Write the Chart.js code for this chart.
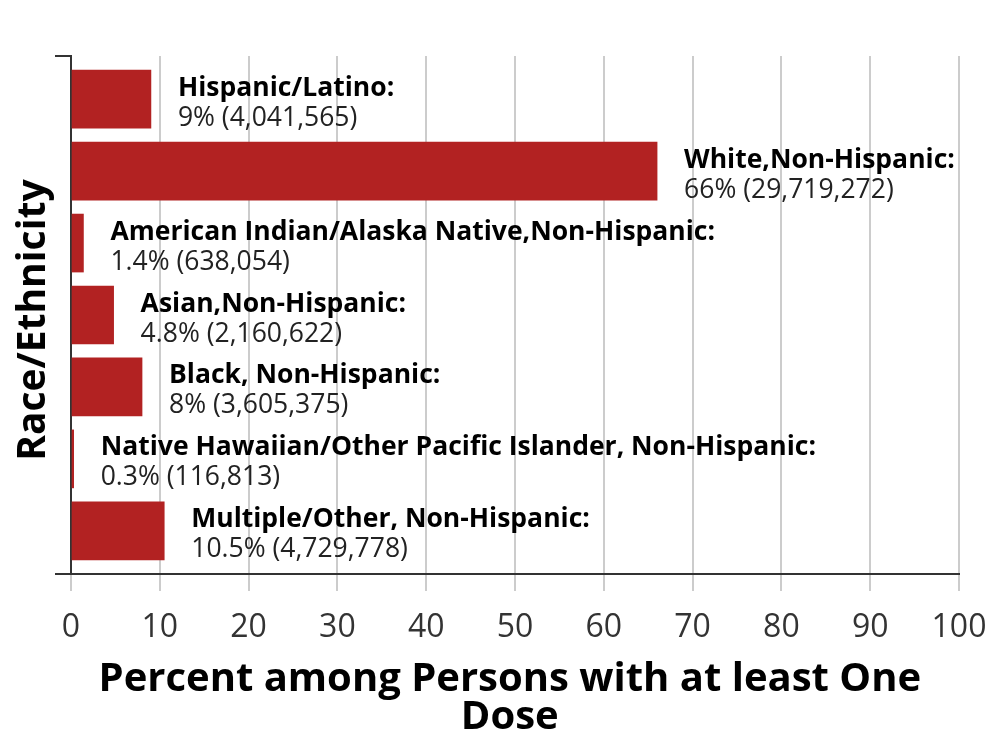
<!DOCTYPE html>
<html>
<head>
<meta charset="utf-8">
<script src="https://cdn.jsdelivr.net/npm/chart.js@4.4.1/dist/chart.umd.min.js"></script>
<style>
  html, body { margin: 0; padding: 0; background: #fff; }
  #wrap { width: 987px; height: 744px; }
</style>
</head>
<body>
<div id="wrap"><canvas id="doseChart" width="987" height="744"></canvas></div>
<script>
const categories = [
    'Hispanic/Latino',
    'White,Non-Hispanic',
    'American Indian/Alaska Native,Non-Hispanic',
    'Asian,Non-Hispanic',
    'Black, Non-Hispanic',
    'Native Hawaiian/Other Pacific Islander, Non-Hispanic',
    'Multiple/Other, Non-Hispanic'
];
const percents = [9, 66, 1.4, 4.8, 8, 0.3, 10.5];
const counts = [4041565, 29719272, 638054, 2160622, 3605375, 116813, 4729778];
const xTicks = [0, 10, 20, 30, 40, 50, 60, 70, 80, 90, 100];

const FONT = "'Open Sans', 'Noto Sans', sans-serif";
const BAR_RED = '#b22222';

// name + value text next to each bar
const barLabels = {
    id: 'barLabels',
    afterDatasetsDraw(chart) {
        const ctx = chart.ctx;
        const meta = chart.getDatasetMeta(0);
        ctx.save();
        ctx.textAlign = 'left';
        ctx.textBaseline = 'middle';
        meta.data.forEach((bar, i) => {
            const x = bar.x + 27;
            ctx.fillStyle = '#000';
            ctx.font = 'bold 26.5px ' + FONT;
            ctx.fillText(categories[i] + ':', x, bar.y - 11);
            ctx.fillStyle = '#222';
            ctx.font = '26.5px ' + FONT;
            ctx.fillText(percents[i] + '% (' + counts[i].toLocaleString('en-US') + ')', x, bar.y + 19);
        });
        ctx.restore();
    }
};

// short ticks that stick out left of the y axis at top and bottom
const axisCaps = {
    id: 'axisCaps',
    afterDraw(chart) {
        const {ctx, chartArea} = chart;
        ctx.save();
        ctx.strokeStyle = '#333';
        ctx.lineWidth = 2;
        ctx.beginPath();
        ctx.moveTo(chartArea.left - 16, chartArea.top);
        ctx.lineTo(chartArea.left, chartArea.top);
        ctx.moveTo(chartArea.left - 16, chartArea.bottom);
        ctx.lineTo(chartArea.left, chartArea.bottom);
        ctx.stroke();
        ctx.restore();
    }
};

new Chart(document.getElementById('doseChart').getContext('2d'), {
    type: 'bar',
    data: {
        datasets: [{
            data: percents.map((v, i) => ({ x: v, y: i })),
            backgroundColor: BAR_RED,
            borderWidth: 0,
            barThickness: 58
        }]
    },
    options: {
        indexAxis: 'y',
        responsive: false,
        animation: false,
        layout: { padding: { top: 56, right: 28, left: 0, bottom: 0 } },
        plugins: {
            legend: { display: false },
            tooltip: { enabled: false }
        },
        scales: {
            x: {
                type: 'linear',
                min: 0,
                max: 100,
                afterBuildTicks: (scale) => { scale.ticks = xTicks.map(v => ({ value: v })); },
                afterFit: (scale) => {
                    scale.height = 170;
                    scale.paddingLeft = 0;
                    scale.paddingRight = 0;
                },
                grid: { color: '#cccccc', lineWidth: 2, tickLength: 17, tickColor: '#cccccc' },
                border: { display: true, color: '#333', width: 2 },
                ticks: { font: { family: FONT, size: 32 }, color: '#333', padding: 18, maxRotation: 0 },
                title: {
                    display: true,
                    // trailing space nudges the centred text a little to the left, as in the original
                    text: ['Percent among Persons with at least One ', 'Dose '],
                    font: { family: FONT, size: 40, weight: 'bold', lineHeight: 0.95 },
                    color: '#000',
                    padding: { top: 0, bottom: 7 }
                }
            },
            y: {
                type: 'linear',
                min: -0.6,
                max: 6.6,
                reverse: true,
                offset: false,
                afterFit: (scale) => { scale.width = 71; },
                grid: { display: false },
                border: { display: true, color: '#333', width: 2 },
                ticks: { display: false },
                title: {
                    display: true,
                    text: 'Race/Ethnicity ',
                    font: { family: FONT, size: 39, weight: 'bold', lineHeight: 1.2 },
                    color: '#000',
                    padding: { top: 10, bottom: 0 }
                }
            }
        }
    },
    plugins: [barLabels, axisCaps]
});
</script>
</body>
</html>
